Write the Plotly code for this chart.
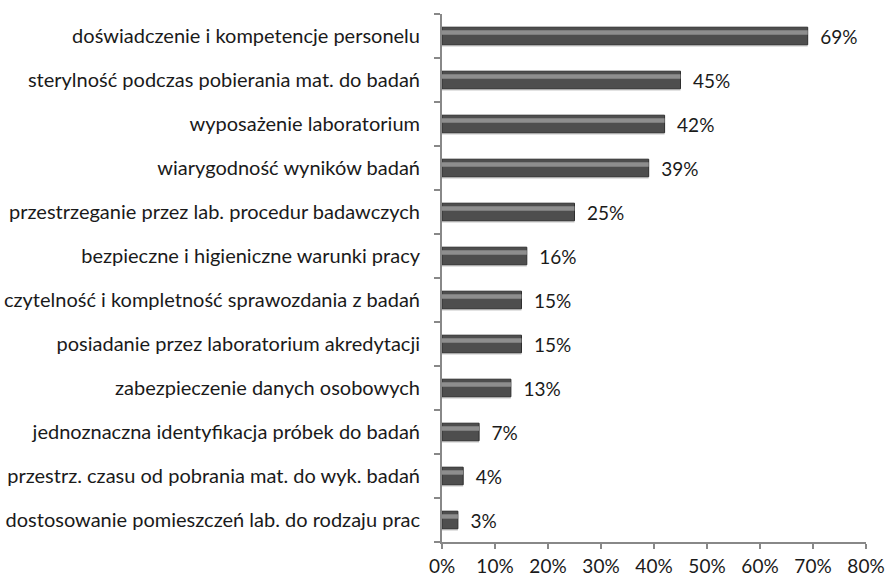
import plotly.graph_objects as go

categories = [
    "doświadczenie i kompetencje personelu",
    "sterylność podczas pobierania mat. do badań",
    "wyposażenie laboratorium",
    "wiarygodność wyników badań",
    "przestrzeganie przez lab. procedur badawczych",
    "bezpieczne i higieniczne warunki pracy",
    "czytelność i kompletność sprawozdania z badań",
    "posiadanie przez laboratorium akredytacji",
    "zabezpieczenie danych osobowych",
    "jednoznaczna identyfikacja próbek do badań",
    "przestrz. czasu od pobrania mat. do wyk. badań",
    "dostosowanie pomieszczeń lab. do rodzaju prac",
]
values = [69, 45, 42, 39, 25, 16, 15, 15, 13, 7, 4, 3]
tick_vals = [0, 10, 20, 30, 40, 50, 60, 70, 80]
tick_text = [f"{v}%" for v in tick_vals]

font = dict(family="Lato, 'Open Sans', sans-serif", size=19, color="#1a1a1a")

fig = go.Figure()
# soft shadow under each bar
fig.add_trace(go.Bar(
    y=categories, x=values, orientation="h", width=0.4, offset=-0.25,
    marker=dict(color="#e2e2e2", line=dict(width=0)),
    hoverinfo="skip",
))
# base bar
fig.add_trace(go.Bar(
    y=categories, x=values, orientation="h", width=0.4,
    marker=dict(color="#4e4e4e", line=dict(color="#2e2e2e", width=1)),
    text=[f"\u2002{v}%" for v in values], textposition="outside",
    constraintext="none",
    textfont=font, cliponaxis=False, hoverinfo="skip",
))
# highlight stripe to imitate the cylinder shading
fig.add_trace(go.Bar(
    y=categories, x=values, orientation="h", width=0.1, offset=0.03,
    marker=dict(color="#8e8e8e", line=dict(width=0)),
    hoverinfo="skip",
))

fig.update_layout(
    width=888, height=578,
    margin=dict(l=442, r=22, t=14, b=36),
    barmode="overlay", showlegend=False,
    plot_bgcolor="white", paper_bgcolor="white",
    font=font,
)
fig.update_xaxes(
    range=[0, 80], tickvals=tick_vals, ticktext=tick_text,
    showgrid=False, zeroline=False, showline=True, linecolor="#888888", linewidth=2,
    ticks="outside", ticklen=5, tickcolor="#888888", tickwidth=2,
    ticklabelstandoff=1, automargin=False,
)
fig.update_yaxes(
    categoryorder="array", categoryarray=categories[::-1],
    showgrid=False, showline=True, linecolor="#888888", linewidth=2,
    ticks="outside", ticklen=6, tickcolor="#888888", tickwidth=2,
    tickson="boundaries", ticklabelstandoff=16, automargin=False,
    tickfont=dict(size=20),
)

# drop the default page margin so the figure sits at the window's corner
fig.write_html("out.html", config={"displayModeBar": False},
               post_script="document.body.style.margin='0';")
